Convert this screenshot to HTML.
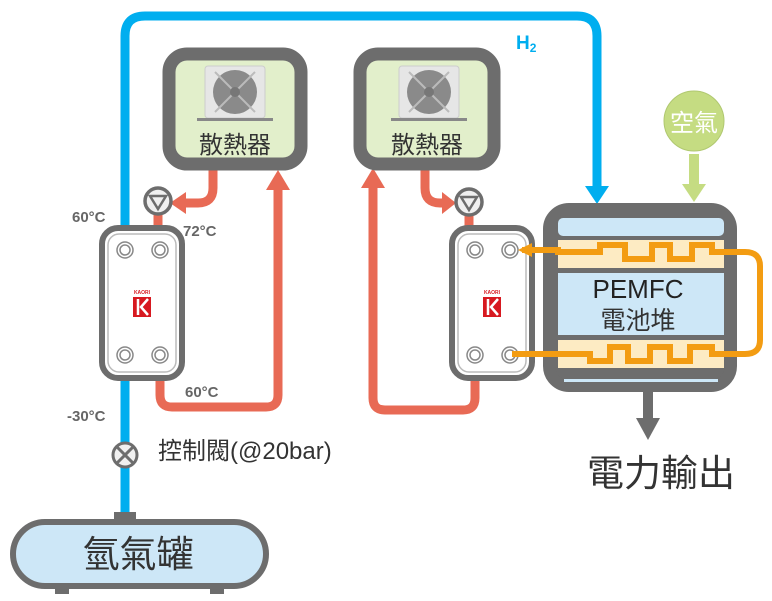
<!DOCTYPE html><html><head><meta charset="utf-8"><style>body{margin:0;background:#fff}svg{display:block}text{font-family:"Liberation Sans","Noto Sans CJK TC",sans-serif}</style></head><body>
<svg width="772" height="601" viewBox="0 0 772 601" xmlns="http://www.w3.org/2000/svg">
<defs>
<g id="fan">
<rect x="-30" y="-30" width="60" height="52" rx="3" fill="#e6e6e6" stroke="#ccc"/>
<circle cx="0" cy="-4" r="22" fill="#8a8a8a"/>
<path d="M-20 -24 L20 16 M20 -24 L-20 16" stroke="#bbb" stroke-width="2"/>
<circle cx="0" cy="-4" r="5" fill="#777"/>
<rect x="-38" y="22" width="76" height="3" fill="#888"/>
</g>
<g id="hx">
<rect x="0" y="0" width="80" height="150" rx="16" fill="#fff" stroke="#6d6d6d" stroke-width="6"/>
<rect x="6" y="6" width="68" height="138" rx="11" fill="none" stroke="#bbb" stroke-width="1.5"/>
<g fill="#fff" stroke="#888" stroke-width="1.5">
<circle cx="23" cy="22" r="8"/><circle cx="23" cy="22" r="5"/>
<circle cx="58" cy="22" r="8"/><circle cx="58" cy="22" r="5"/>
<circle cx="23" cy="127" r="8"/><circle cx="23" cy="127" r="5"/>
<circle cx="58" cy="127" r="8"/><circle cx="58" cy="127" r="5"/>
</g>
<text x="40" y="66" font-size="5" fill="#d71920" text-anchor="middle" font-weight="bold">KAORI</text>
<rect x="31" y="69" width="18" height="20" fill="#d71920"/>
<path d="M36 71 V87 M46 71 L39 79 L46 87" stroke="#fff" stroke-width="2.5" fill="none"/>
</g>
<g id="pump">
<circle r="13" fill="#f0f0f0" stroke="#6d6d6d" stroke-width="3.5"/>
<path d="M-8 -5 L8 -5 L0 8 Z" fill="#f0f0f0" stroke="#6d6d6d" stroke-width="2.5"/>
</g>
</defs>

<path d="M125 255 V36 Q125 16 145 16 H577 Q597 16 597 36 V188" fill="none" stroke="#00aeef" stroke-width="9"/>
<path d="M585 186 L609 186 L597 204 Z" fill="#00aeef"/>
<text x="516" y="49" font-size="19" font-weight="bold" fill="#00aeef">H<tspan font-size="12" dy="3">2</tspan></text>

<path d="M125 512 V378" stroke="#00aeef" stroke-width="9"/>
<path d="M113 380 L137 380 L125 360 Z" fill="#00aeef"/>

<g fill="none" stroke="#e86a55" stroke-width="9">
<path d="M213 170 V188 Q213 203 198 203 H182"/>
<path d="M158 214 V232"/>
<path d="M160 358 V395 Q160 407 172 407 H266 Q278 407 278 395 V188"/>
<path d="M425 170 V188 Q425 203 440 203 H448"/>
<path d="M469 214 V232"/>
<path d="M475 358 V398 Q475 410 463 410 H385 Q373 410 373 398 V186"/>
</g>
<g fill="#e86a55">
<path d="M186 192 L186 214 L170 203 Z"/>
<path d="M148 228 L168 228 L158 244 Z"/>
<path d="M266 190 L290 190 L278 170 Z"/>
<path d="M442 192 L442 214 L456 203 Z"/>
<path d="M459 228 L479 228 L469 244 Z"/>
<path d="M361 188 L385 188 L373 168 Z"/>
</g>

<rect x="169" y="54" width="132" height="110" rx="18" fill="#e2efcb" stroke="#6d6d6d" stroke-width="13"/>
<use href="#fan" x="235" y="96"/>
<text x="235" y="153" font-size="24" text-anchor="middle" fill="#333">散熱器</text>
<rect x="360" y="54" width="134" height="110" rx="18" fill="#e2efcb" stroke="#6d6d6d" stroke-width="13"/>
<use href="#fan" x="429" y="96"/>
<text x="427" y="153" font-size="24" text-anchor="middle" fill="#333">散熱器</text>

<use href="#pump" x="158" y="201"/>
<use href="#pump" x="469" y="202"/>

<use href="#hx" x="102" y="228"/>
<use href="#hx" x="452" y="228"/>

<rect x="549" y="209" width="182" height="177" rx="20" fill="#6d6d6d" stroke="#6d6d6d" stroke-width="12"/>
<rect x="558" y="218" width="166" height="18" rx="5" fill="#cde7f7"/>
<rect x="558" y="240" width="166" height="28" fill="#fdebc3"/>
<rect x="558" y="273" width="166" height="62" fill="#cde7f7"/>
<rect x="558" y="340" width="166" height="28" fill="#fdebc3"/>
<rect x="564" y="379" width="154" height="3" fill="#cde7f7"/>
<text x="638" y="298" font-size="26" text-anchor="middle" fill="#222">PEMFC</text>
<text x="638" y="329" font-size="25" text-anchor="middle" fill="#333">電池堆</text>

<g fill="none" stroke="#f39c12" stroke-width="6" stroke-linejoin="miter">
<path d="M522 250 H558 V252 H600 V245 H625 V259 H652 V245 H670 V259 H692 V245 H712 V252 H745 Q760 252 760 266 V340 Q760 354 745 354 H712 V347 H690 V361 H670 V347 H650 V361 H628 V347 H610 V361 H590 V354 H512"/>
</g>
<path d="M532 243 L532 257 L518 250 Z" fill="#f39c12"/>

<circle cx="694" cy="121" r="30" fill="#c5dc82" stroke="#b0c870" stroke-width="1"/>
<text x="694" y="131" font-size="24" text-anchor="middle" fill="#fff">空氣</text>
<rect x="689" y="154" width="10" height="32" fill="#c5dc82"/>
<path d="M682 184 L706 184 L694 202 Z" fill="#c5dc82"/>

<rect x="643" y="390" width="10" height="30" fill="#6d6d6d"/>
<path d="M636 418 L660 418 L648 440 Z" fill="#6d6d6d"/>
<text x="661" y="486" font-size="37" text-anchor="middle" fill="#333">電力輸出</text>

<g font-size="15" font-weight="bold" fill="#666">
<text x="72" y="222">60°C</text>
<text x="183" y="236">72°C</text>
<text x="185" y="397">60°C</text>
<text x="67" y="421">-30°C</text>
</g>
<text x="158" y="459" font-size="24" fill="#333">控制閥(@20bar)</text>

<circle cx="125" cy="455" r="12" fill="#f0f0f0" stroke="#6d6d6d" stroke-width="3"/>
<path d="M117 447 L133 463 M133 447 L117 463" stroke="#6d6d6d" stroke-width="3"/>

<rect x="114" y="512" width="22" height="8" fill="#6d6d6d"/>
<rect x="13" y="522" width="253" height="64" rx="32" fill="#cde7f7" stroke="#6d6d6d" stroke-width="6"/>
<rect x="55" y="588" width="14" height="6" fill="#6d6d6d"/>
<rect x="210" y="588" width="14" height="6" fill="#6d6d6d"/>
<text x="138" y="567" font-size="37" text-anchor="middle" fill="#333">氫氣罐</text>
</svg>
</body></html>
